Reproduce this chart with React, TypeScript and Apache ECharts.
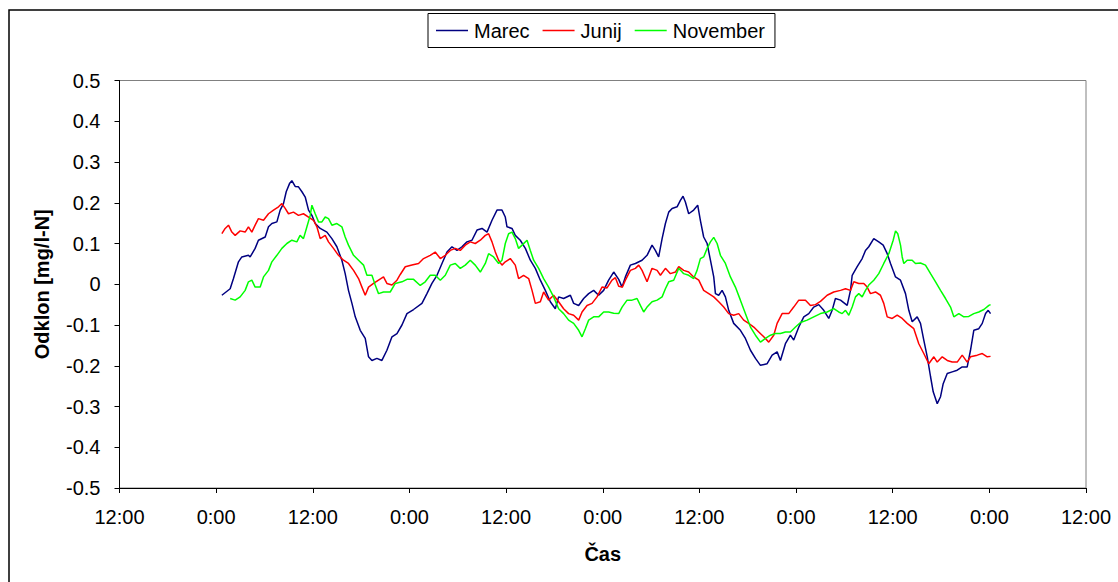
import React, { useEffect, useRef } from "react";
import * as echarts from "echarts";

// time in hours from the first 0:00, deviation in mg/l-N
const marec: [number, number][] = [
  [0.71, -0.027], [1.74, -0.011], [2.15, 0.014], [2.77, 0.055], [3.19, 0.067], [4.01, 0.071], [4.22, 0.067],
  [4.84, 0.088], [5.25, 0.108], [6.09, 0.116], [6.5, 0.141], [6.92, 0.149], [7.54, 0.153], [7.95, 0.182],
  [8.36, 0.198], [8.7, 0.227], [9.11, 0.247], [9.4, 0.254], [9.81, 0.24], [10.22, 0.239], [10.65, 0.227],
  [11.06, 0.214], [11.47, 0.182], [11.89, 0.169], [12.3, 0.149], [12.92, 0.137], [13.75, 0.128], [14.37, 0.112],
  [14.99, 0.092], [15.61, 0.059], [16.02, 0.026], [16.43, -0.015], [16.86, -0.047], [17.27, -0.08], [17.89, -0.113],
  [18.51, -0.133], [18.92, -0.178], [19.34, -0.187], [19.96, -0.182], [20.58, -0.187], [21.2, -0.162], [21.83, -0.129],
  [22.45, -0.121], [23.07, -0.1], [23.69, -0.072], [24.51, -0.062], [25.55, -0.047], [26.17, -0.023], [26.79, 0.002],
  [27.42, 0.022], [28.04, 0.051], [28.66, 0.079], [29.28, 0.092], [29.9, 0.083], [30.52, 0.092], [31.14, 0.104],
  [31.76, 0.108], [32.39, 0.133], [33.01, 0.137], [33.63, 0.128], [34.25, 0.157], [34.87, 0.182], [35.49, 0.182],
  [35.9, 0.165], [36.11, 0.141], [36.73, 0.137], [37.14, 0.12], [37.76, 0.108], [38.39, 0.088], [39.01, 0.059],
  [39.63, 0.039], [40.25, 0.01], [40.87, -0.015], [41.49, -0.043], [42.11, -0.06], [42.52, -0.031], [43.14, -0.035],
  [43.98, -0.027], [44.39, -0.047], [45.01, -0.052], [45.63, -0.035], [46.25, -0.023], [46.87, -0.015], [47.49, -0.027],
  [48.11, -0.015], [48.73, 0.01], [49.36, 0.03], [49.98, 0.012], [50.4, -0.007], [50.81, 0.018], [51.43, 0.047],
  [52.05, 0.051], [52.88, 0.059], [53.5, 0.071], [54.12, 0.096], [54.53, 0.083], [54.94, 0.067], [55.37, 0.112],
  [55.78, 0.149], [56.19, 0.177], [56.61, 0.186], [57.23, 0.19], [57.64, 0.206], [57.97, 0.216], [58.26, 0.202],
  [58.67, 0.173], [59.29, 0.182], [59.79, 0.194], [60.12, 0.157], [60.53, 0.116], [60.96, 0.1], [61.37, 0.059],
  [61.78, 0.018], [61.99, -0.023], [62.4, -0.027], [62.82, -0.015], [63.23, -0.031], [63.64, -0.064], [64.26, -0.096],
  [65.09, -0.113], [65.71, -0.133], [66.34, -0.162], [66.96, -0.182], [67.58, -0.199], [68.41, -0.195], [69.03, -0.174],
  [69.65, -0.166], [70.06, -0.187], [70.68, -0.146], [71.3, -0.125], [71.71, -0.137], [72.34, -0.105], [72.96, -0.08],
  [73.58, -0.072], [74.2, -0.056], [74.82, -0.05], [75.44, -0.064], [76.06, -0.084], [76.48, -0.064], [76.89, -0.035],
  [77.52, -0.039], [78.35, -0.052], [78.76, -0.015], [78.97, 0.022], [79.59, 0.043], [80.21, 0.063], [80.62, 0.083],
  [81.03, 0.092], [81.65, 0.112], [82.27, 0.104], [82.82, 0.096], [83.32, 0.075], [83.73, 0.051], [84.35, 0.018],
  [84.97, 0.01], [85.59, -0.023], [86.0, -0.064], [86.42, -0.092], [87.04, -0.08], [87.45, -0.096], [87.86, -0.137],
  [88.29, -0.178], [88.7, -0.227], [89.03, -0.264], [89.53, -0.293], [89.94, -0.276], [90.27, -0.244], [90.77, -0.219],
  [91.39, -0.215], [92.01, -0.211], [92.63, -0.203], [93.25, -0.203], [93.66, -0.162], [94.07, -0.113], [94.69, -0.109],
  [95.12, -0.096], [95.53, -0.072], [95.86, -0.064], [96.15, -0.072],
];

const junij: [number, number][] = [
  [0.71, 0.124], [1.12, 0.137], [1.53, 0.145], [1.95, 0.128], [2.36, 0.12], [2.98, 0.131], [3.6, 0.128],
  [4.01, 0.141], [4.43, 0.128], [4.84, 0.145], [5.25, 0.161], [5.88, 0.157], [6.5, 0.173], [7.12, 0.182],
  [7.74, 0.19], [8.16, 0.198], [8.57, 0.186], [8.98, 0.173], [9.6, 0.177], [10.22, 0.169], [10.84, 0.173],
  [11.47, 0.165], [12.09, 0.157], [12.51, 0.141], [12.92, 0.112], [13.54, 0.12], [13.95, 0.104], [14.57, 0.088],
  [15.19, 0.071], [15.81, 0.059], [16.43, 0.051], [17.06, 0.034], [17.68, 0.014], [18.1, -0.007], [18.51, -0.027],
  [18.92, -0.007], [19.54, 0.002], [20.16, 0.01], [20.78, 0.018], [21.2, 0.002], [21.83, -0.002], [22.45, 0.01],
  [22.86, 0.024], [23.48, 0.043], [24.31, 0.047], [25.13, 0.051], [25.75, 0.063], [26.58, 0.071], [27.2, 0.079],
  [27.83, 0.063], [28.45, 0.071], [29.07, 0.083], [29.69, 0.088], [30.31, 0.083], [30.93, 0.096], [31.55, 0.104],
  [32.17, 0.1], [32.8, 0.108], [33.42, 0.12], [33.83, 0.124], [34.25, 0.104], [34.66, 0.079], [35.07, 0.059],
  [35.49, 0.047], [35.9, 0.055], [36.52, 0.063], [37.14, 0.047], [37.55, 0.014], [38.17, 0.022], [38.8, 0.014],
  [39.22, -0.015], [39.63, -0.047], [40.25, -0.043], [40.66, -0.019], [41.28, -0.039], [41.9, -0.027], [42.52, -0.043],
  [43.14, -0.06], [43.76, -0.072], [44.39, -0.076], [45.01, -0.088], [45.43, -0.068], [46.05, -0.052], [46.67, -0.047],
  [47.29, -0.031], [47.91, -0.007], [48.53, -0.009], [49.15, 0.01], [49.57, 0.016], [49.98, -0.005], [50.43, -0.007],
  [50.81, 0.01], [51.43, 0.034], [52.05, 0.039], [52.47, 0.047], [52.88, 0.034], [53.5, 0.006], [54.12, 0.039],
  [54.75, 0.034], [55.16, 0.022], [55.78, 0.039], [56.4, 0.026], [57.02, 0.03], [57.43, 0.043], [58.05, 0.034],
  [58.67, 0.03], [59.29, 0.018], [59.92, 0.01], [60.53, -0.015], [61.16, -0.023], [61.78, -0.031], [62.4, -0.043],
  [63.02, -0.056], [63.64, -0.072], [64.26, -0.076], [64.88, -0.072], [65.5, -0.088], [66.12, -0.096], [66.75, -0.105],
  [67.37, -0.117], [67.99, -0.129], [68.61, -0.142], [69.23, -0.125], [69.65, -0.096], [70.27, -0.072], [71.09, -0.072],
  [71.71, -0.056], [72.34, -0.039], [73.17, -0.039], [73.79, -0.052], [74.41, -0.05], [75.03, -0.042], [75.86, -0.027],
  [76.68, -0.019], [77.52, -0.015], [78.14, -0.011], [78.76, -0.015], [79.17, 0.006], [79.79, 0.002], [80.41, 0.002],
  [80.83, -0.007], [81.24, -0.023], [81.86, -0.019], [82.48, -0.027], [82.89, -0.047], [83.32, -0.08], [83.94, -0.084],
  [84.56, -0.076], [85.18, -0.084], [85.8, -0.096], [86.62, -0.109], [87.24, -0.146], [87.86, -0.17], [88.48, -0.195],
  [89.11, -0.178], [89.53, -0.191], [90.15, -0.178], [90.77, -0.187], [91.39, -0.191], [92.01, -0.191], [92.63, -0.174],
  [93.25, -0.191], [93.66, -0.178], [94.5, -0.174], [95.12, -0.17], [95.74, -0.178], [96.15, -0.177],
];

const november: [number, number][] = [
  [1.74, -0.035], [2.36, -0.039], [2.98, -0.031], [3.6, -0.015], [4.01, 0.006], [4.43, 0.01], [4.84, -0.007],
  [5.47, -0.007], [5.88, 0.018], [6.5, 0.034], [6.92, 0.055], [7.54, 0.071], [8.16, 0.088], [8.78, 0.1],
  [9.4, 0.108], [10.02, 0.104], [10.42, 0.12], [10.84, 0.112], [11.27, 0.141], [11.68, 0.169], [11.89, 0.194],
  [12.3, 0.173], [12.71, 0.153], [13.13, 0.153], [13.54, 0.165], [13.95, 0.161], [14.37, 0.145], [14.99, 0.149],
  [15.61, 0.141], [16.02, 0.116], [16.43, 0.096], [17.06, 0.071], [17.68, 0.059], [18.3, 0.047], [18.72, 0.022],
  [19.34, 0.022], [19.75, -0.002], [20.16, -0.023], [20.78, -0.019], [21.61, -0.019], [22.24, 0.002], [23.07, 0.006],
  [23.69, 0.012], [24.51, 0.012], [25.34, -0.003], [25.96, 0.006], [26.58, 0.022], [27.2, 0.022], [27.83, 0.01],
  [28.45, 0.022], [29.07, 0.047], [29.69, 0.051], [30.31, 0.039], [30.93, 0.047], [31.55, 0.059], [32.17, 0.047],
  [32.8, 0.03], [33.42, 0.051], [33.83, 0.075], [34.45, 0.067], [35.07, 0.051], [35.49, 0.059], [35.9, 0.1],
  [36.31, 0.124], [36.73, 0.128], [37.14, 0.112], [37.55, 0.088], [37.98, 0.096], [38.6, 0.108], [39.01, 0.083],
  [39.42, 0.059], [40.04, 0.039], [40.66, 0.014], [41.28, -0.007], [41.9, -0.031], [42.52, -0.06], [43.14, -0.072],
  [43.76, -0.088], [44.39, -0.096], [45.01, -0.113], [45.43, -0.129], [45.84, -0.109], [46.25, -0.088], [46.87, -0.08],
  [47.49, -0.08], [48.11, -0.068], [48.73, -0.068], [49.36, -0.071], [49.98, -0.072], [50.4, -0.056], [51.02, -0.039],
  [51.64, -0.039], [52.26, -0.035], [52.67, -0.052], [53.08, -0.068], [53.5, -0.056], [54.12, -0.043], [54.75, -0.039],
  [55.37, -0.031], [55.78, -0.011], [56.19, 0.006], [56.81, 0.01], [57.43, 0.039], [58.05, 0.026], [58.67, 0.022],
  [59.29, 0.014], [59.71, 0.034], [60.12, 0.063], [60.53, 0.067], [60.96, 0.088], [61.37, 0.104], [61.78, 0.115],
  [62.2, 0.1], [62.61, 0.071], [63.23, 0.051], [63.85, 0.018], [64.47, -0.007], [65.09, -0.039], [65.71, -0.072],
  [66.34, -0.105], [66.96, -0.125], [67.58, -0.142], [68.2, -0.133], [68.82, -0.125], [69.44, -0.121], [70.06, -0.121],
  [70.68, -0.117], [71.3, -0.117], [71.93, -0.105], [72.55, -0.094], [73.38, -0.088], [74.2, -0.08], [75.03, -0.072],
  [75.86, -0.068], [76.68, -0.06], [77.3, -0.068], [77.73, -0.072], [78.14, -0.064], [78.55, -0.076], [78.97, -0.056],
  [79.38, -0.031], [79.79, -0.023], [80.21, -0.031], [80.62, -0.015], [81.03, -0.002], [81.65, 0.01], [82.27, 0.026],
  [82.89, 0.051], [83.52, 0.075], [84.06, 0.108], [84.35, 0.131], [84.63, 0.124], [84.97, 0.096], [85.18, 0.067],
  [85.38, 0.051], [85.8, 0.059], [86.42, 0.059], [86.83, 0.051], [87.45, 0.052], [88.07, 0.047], [88.7, 0.026],
  [89.32, 0.006], [89.94, -0.015], [90.56, -0.035], [91.18, -0.056], [91.59, -0.08], [92.21, -0.072], [92.83, -0.08],
  [93.45, -0.079], [94.07, -0.072], [94.69, -0.068], [95.32, -0.062], [95.94, -0.052], [96.15, -0.05],
];

const seriesNames = ["Marec", "Junij", "November"];
const seriesColors = ["#000080", "#ff0000", "#00ff00"];
const yAxisTitle = "Odklon [mg/l-N]";
const xAxisTitle = "Čas";

const FONT = '"Liberation Sans", Arial, sans-serif';

export default function App() {
  const ref = useRef<HTMLDivElement>(null);
  useEffect(() => {
    if (!ref.current) return;
    const chart = echarts.init(ref.current, undefined, { renderer: "svg" });
    const datasets = [marec, junij, november];
    chart.setOption({
      animation: false,
      backgroundColor: "#ffffff",
      textStyle: { fontFamily: FONT, color: "#000" },
      graphic: [
        {
          type: "rect",
          z: -10,
          silent: true,
          shape: { x: 9, y: 10, width: 1140, height: 620 },
          style: { fill: "none", stroke: "#000", lineWidth: 1.5 },
        },
      ],
      legend: {
        left: 428,
        top: 13.5,
        padding: [7, 10, 7, 8],
        borderColor: "#000",
        borderWidth: 1,
        backgroundColor: "#fff",
        itemGap: 13,
        itemWidth: 32,
        itemHeight: 1.5,
        icon: "rect",
        textStyle: { fontFamily: FONT, fontSize: 20, color: "#000", padding: [0, 0, 0, 1] },
        data: seriesNames,
      },
      grid: {
        left: 119.5,
        top: 80.5,
        right: 32,
        bottom: 94,
        show: true,
        borderColor: "#808080",
        borderWidth: 1,
        backgroundColor: "#fff",
      },
      xAxis: {
        type: "value",
        min: -12,
        max: 108,
        interval: 12,
        name: xAxisTitle,
        nameLocation: "middle",
        nameGap: 56,
        nameTextStyle: { fontFamily: FONT, fontSize: 20, fontWeight: "bold", color: "#000" },
        axisLine: { show: true, onZero: false, lineStyle: { color: "#000", width: 1 } },
        axisTick: { show: true, inside: false, length: 5, lineStyle: { color: "#000" } },
        splitLine: { show: false },
        axisLabel: {
          fontFamily: FONT,
          fontSize: 20,
          color: "#000",
          margin: 19,
          formatter: (v: number) => ((((v % 24) + 24) % 24) === 0 ? "0:00" : "12:00"),
        },
      },
      yAxis: {
        type: "value",
        min: -0.5,
        max: 0.5,
        interval: 0.1,
        name: yAxisTitle,
        nameLocation: "middle",
        nameGap: 68,
        nameRotate: 90,
        nameTextStyle: { fontFamily: FONT, fontSize: 20, fontWeight: "bold", color: "#000" },
        axisLine: { show: true, onZero: false, lineStyle: { color: "#000", width: 1 } },
        axisTick: { show: true, inside: false, length: 5, lineStyle: { color: "#000" } },
        splitLine: { show: false },
        axisLabel: {
          fontFamily: FONT,
          fontSize: 20,
          color: "#000",
          margin: 19,
          formatter: (v: number) => (Math.abs(v) < 1e-9 ? "0" : v.toFixed(1)),
        },
      },
      series: seriesNames.map((name, i) => ({
        name,
        type: "line",
        data: datasets[i],
        showSymbol: false,
        symbol: "none",
        color: seriesColors[i],
        lineStyle: { color: seriesColors[i], width: 1.5 },
      })),
    });
    return () => chart.dispose();
  }, []);
  return (
    <div
      ref={ref}
      style={{ position: "absolute", left: 0, top: 0, width: 1118, height: 582, background: "#fff" }}
    />
  );
}
